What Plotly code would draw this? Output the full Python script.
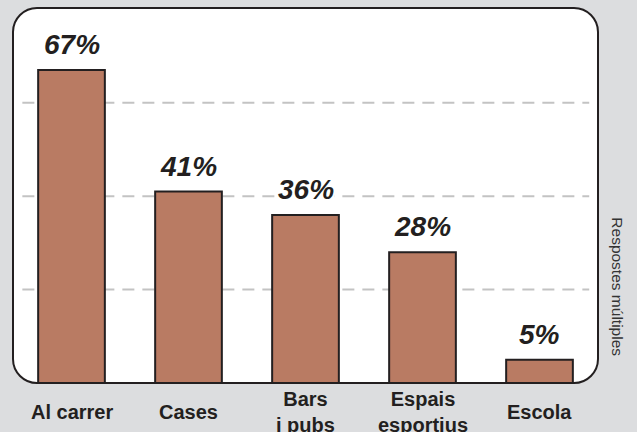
import plotly.graph_objects as go

categories = ["Al carrer", "Cases", "Bars<br>i pubs", "Espais<br>esportius", "Escola"]
values = [67, 41, 36, 28, 5]
value_labels = ["67%", "41%", "36%", "28%", "5%"]
grid_values = [20, 40, 60]
side_note = "Respostes múltiples"

BG = "#dcdddf"
BAR = "#b97b63"
INK = "#231f20"
FONT = "Liberation Sans, Arial, sans-serif"

x = list(range(len(categories)))

fig = go.Figure()
fig.add_trace(go.Bar(
    x=x, y=values, width=0.57,
    marker=dict(color=BAR, line=dict(color=INK, width=2)),
    hoverinfo="skip",
))

# rounded white panel (paper coords, radii corrected for aspect)
W, H = 585, 375
rx, ry = 24 / W, 24 / H
k = 0.45
path = (
    f"M {rx},0 L {1-rx},0 C {1-rx*k},0 1,{ry*k} 1,{ry} "
    f"L 1,{1-ry} C 1,{1-ry*k} {1-rx*k},1 {1-rx},1 "
    f"L {rx},1 C {rx*k},1 0,{1-ry*k} 0,{1-ry} "
    f"L 0,{ry} C 0,{ry*k} {rx*k},0 {rx},0 Z"
)
fig.add_shape(type="path", path=path, xref="paper", yref="paper",
              fillcolor="white", line=dict(color=INK, width=2), layer="below")

for g in grid_values:
    fig.add_shape(type="line", xref="paper", yref="y", x0=0.016, x1=0.985,
                  y0=g, y1=g, line=dict(color="#c3c3c3", width=2, dash="12px,8px"),
                  layer="below")

for xi, v, lab in zip(x, values, value_labels):
    fig.add_annotation(x=xi, y=v, text=f"<b><i>{lab}</i></b>", showarrow=False,
                       yanchor="bottom", yshift=9, bgcolor="white", borderpad=0,
                       font=dict(size=28, color=INK, family=FONT))

for xi, cat in zip(x, categories):
    fig.add_annotation(x=xi, y=-0.077, yref="paper", text=f"<b>{cat}</b>",
                       showarrow=False, yanchor="middle",
                       font=dict(size=20, color=INK, family=FONT))

fig.add_annotation(x=1.033, y=0.257, xref="paper", yref="paper", text=side_note,
                   textangle=90, showarrow=False, xanchor="center", yanchor="middle",
                   font=dict(size=15.5, color="#333333", family=FONT))

fig.update_layout(
    width=637, height=432,
    margin=dict(l=13, r=39, t=8, b=49),
    paper_bgcolor=BG, plot_bgcolor="rgba(0,0,0,0)",
    showlegend=False,
    xaxis=dict(range=[-0.5, 4.5], showticklabels=False, showgrid=False,
               zeroline=False, fixedrange=True),
    yaxis=dict(range=[0, 80.3], showticklabels=False, showgrid=False,
               zeroline=False, fixedrange=True),
)

fig.write_html("out.html", config={"displayModeBar": False},
               post_script="document.body.style.margin='0';")
